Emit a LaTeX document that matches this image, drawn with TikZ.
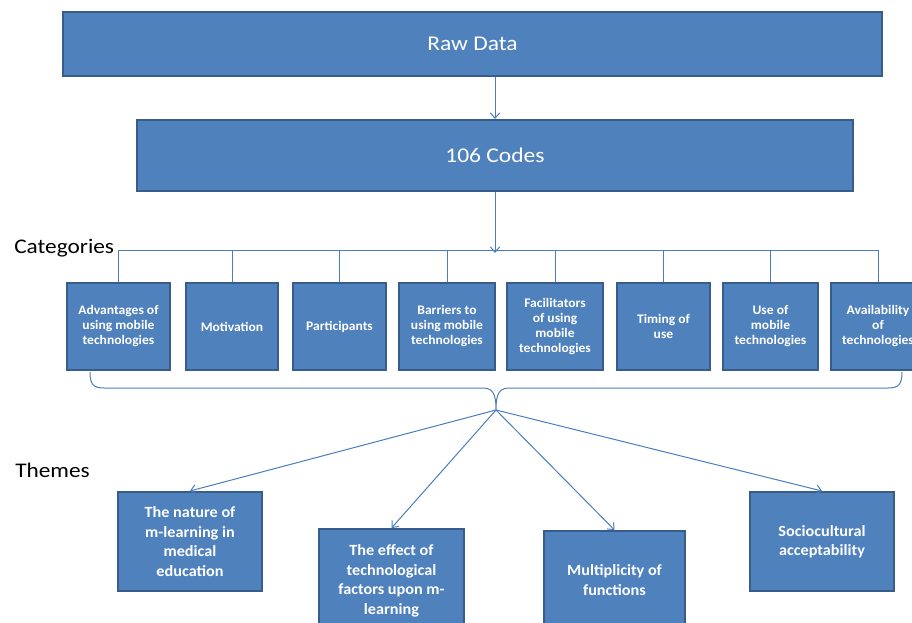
\documentclass[tikz,border=0pt]{standalone}
\usepackage{fontspec}
\setmainfont{Carlito}
\newfontfamily\widefont[FakeStretch=1.12]{Carlito}
\newfontfamily\tagfont[FakeStretch=1.04]{Carlito}
\usepackage{tikz}
\usetikzlibrary{arrows.meta}

\definecolor{boxfill}{HTML}{4F81BD}
\definecolor{boxline}{HTML}{385D8A}
\definecolor{linkcol}{HTML}{4A7EBB}

\tikzset{
  size/.style 2 args={minimum width=#1*0.75pt, minimum height=#2*0.75pt},
  bluebox/.style={draw=boxline, line width=1.5pt, fill=boxfill, text=white, align=center, inner sep=0pt},
  titlebox/.style={bluebox, font=\widefont\fontsize{15.75pt}{18pt}\selectfont},
  catbox/.style={bluebox, font=\tagfont\bfseries\fontsize{9.8pt}{11.25pt}\selectfont},
  themebox/.style={bluebox, font=\tagfont\bfseries\fontsize{11.7pt}{14.6pt}\selectfont},
  heading/.style={anchor=base west, inner sep=0pt, font=\widefont\fontsize{15.6pt}{18pt}\selectfont},
  link/.style={draw=linkcol, line width=0.75pt},
  arr/.style={link, -{Straight Barb[length=4pt, width=7pt]}}
}

\begin{document}
\begin{tikzpicture}[x=0.75pt,y=0.75pt,yscale=-1,xscale=1]
\useasboundingbox (0,0) rectangle (912,623);
\clip (0,0) rectangle (912,623);

%Shape: Rectangle
\node[titlebox, size={819}{64}] (raw) at (472.5,44) {Raw Data};
%Shape: Rectangle
\node[titlebox, size={716}{71}] (codes) at (495,155.5) {106 Codes};

% Text Node
\node[heading] (cat) at (14,254) {Categories};
% Text Node
\node[heading] (thm) at (15,477) {Themes};

%Shape: Rectangle (categories)
\node[catbox, size={103}{87}] (c1) at (118.5,326.5) {Advantages of\\using mobile\\technologies};
\node[catbox, size={92}{87}] (c2) at (232,326.5) {Motivation};
\node[catbox, size={93}{87}] (c3) at (339.5,326.5) {Participants};
\node[catbox, size={96}{87}] (c4) at (447,326.5) {Barriers to\\using mobile\\technologies};
\node[catbox, size={96}{87}] (c5) at (555,326.5) {Facilitators\\of using\\mobile\\technologies};
\node[catbox, size={93}{87}] (c6) at (663.5,326.5) {Timing of\\use};
\node[catbox, size={95}{87}] (c7) at (770.5,326.5) {Use of\\mobile\\technologies};
\node[catbox, size={94}{87}] (c8) at (878,326.5) {Availability\\of\\technologies};

%Shape: Rectangle (themes)
\node[themebox, size={144}{99}] (t1) at (190,541.5) {The nature of\\m-learning in\\medical\\education};
\node[themebox, size={145}{104}] (t2) at (391.5,581) {The effect of\\technological\\factors upon m-\\learning};
\node[themebox, size={141}{98}] (t3) at (614.5,580) {Multiplicity of\\functions};
\node[themebox, size={144}{99}] (t4) at (822,541.5) {Sociocultural\\acceptability};

%Straight Lines
\draw[arr] (raw.south -| codes.north) -- (codes.north);
\draw[arr] (codes.south) -- ++(0,61);

% category bus
\draw[link] (c1.north) -- ++(0,-31) -| (c8.north);
\foreach \n in {2,...,7}
  \draw[link] (c\n.north) -- ++(0,-31);

%Curve Lines (brace under categories)
\coordinate (fan) at (496,410);
\draw[link] (90,372) .. controls (90,384) and (93,388) .. (104,388) -- (482,388) .. controls (492,388) and (496,392) .. (fan) .. controls (496,392) and (500,388) .. (510,388) -- (888,388) .. controls (899,388) and (902,384) .. (902,372);

% theme arrows
\foreach \t in {1,...,4}
  \draw[arr] (fan) -- (t\t.north);

\end{tikzpicture}
\end{document}
